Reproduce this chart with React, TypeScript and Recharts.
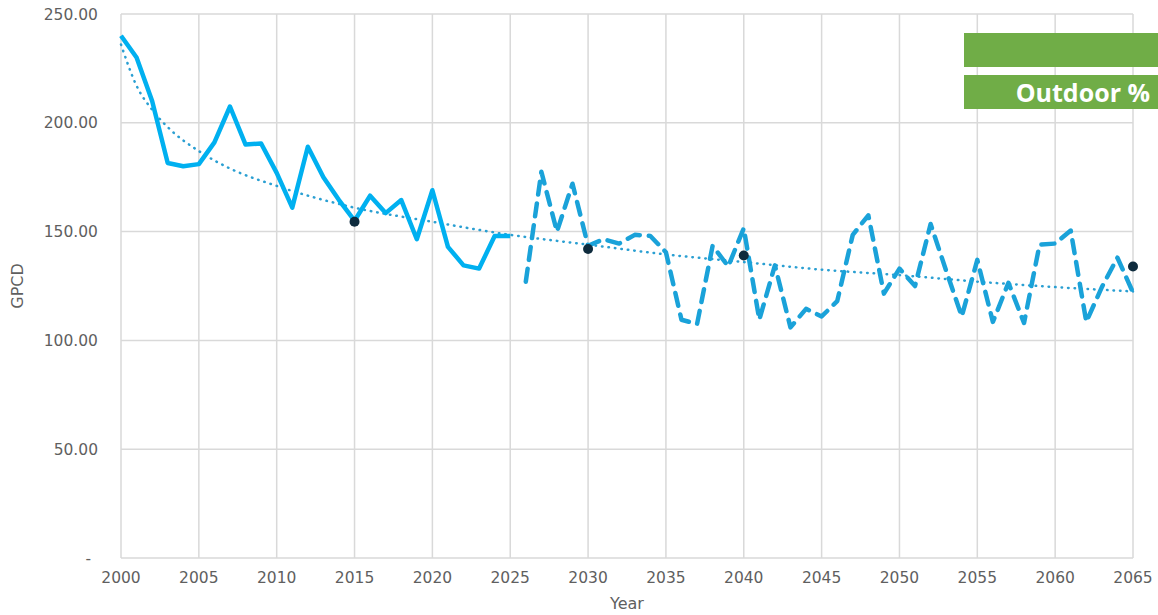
import { LineChart, Line, XAxis, YAxis, CartesianGrid } from 'recharts';

// 실측 (solid) 2000–2025
const actualYears = [
  2000, 2001, 2002, 2003, 2004, 2005, 2006, 2007, 2008, 2009, 2010, 2011, 2012,
  2013, 2014, 2015, 2016, 2017, 2018, 2019, 2020, 2021, 2022, 2023, 2024, 2025,
];
const actualGpcd = [
  240, 230, 210, 181.5, 180, 181, 191, 207.5, 190, 190.5, 177, 161, 189, 175,
  164.5, 155, 166.5, 158.5, 164.5, 146.5, 169, 143, 134.5, 133, 148, 148,
];

// 예측 (dashed) 2026–2065
const projectedYears = [
  2026, 2027, 2028, 2029, 2030, 2031, 2032, 2033, 2034, 2035, 2036, 2037, 2038,
  2039, 2040, 2041, 2042, 2043, 2044, 2045, 2046, 2047, 2048, 2049, 2050, 2051,
  2052, 2053, 2054, 2055, 2056, 2057, 2058, 2059, 2060, 2061, 2062, 2063, 2064,
  2065,
];
const projectedGpcd = [
  127, 177.5, 150, 172, 143.5, 146.5, 144.5, 148.5, 148, 140.5, 109.5, 107.5,
  143.5, 134, 151.5, 109.5, 134.5, 106, 114.5, 111, 118, 148.5, 157.5, 121.5,
  133, 125, 153.5, 132, 111, 137, 108.5, 126.5, 108, 144, 144.5, 150.5, 108.5,
  124.5, 138, 122,
];

// 추세선 (dotted) — 그림에서 읽은 지점들
const trendYears = [
  2000, 2001, 2002, 2003, 2005, 2007, 2010, 2015, 2020, 2025, 2030, 2035, 2040,
  2045, 2050, 2055, 2060, 2065,
];
const trendGpcd = [
  236, 217, 206, 198, 187, 179, 171, 161, 154.5, 148.5, 144, 139.5, 136, 132.5,
  130, 127, 124.5, 122.5,
];

// 마커 (dark dots)
const markerYears = [2015, 2030, 2040, 2065];
const markerGpcd = [154.5, 142, 139, 134];

const xTicks = [
  2000, 2005, 2010, 2015, 2020, 2025, 2030, 2035, 2040, 2045, 2050, 2055, 2060,
  2065,
];
const yTicks = [0, 50, 100, 150, 200, 250];

const legendLabels = ['', 'Outdoor %'];

const data = [...actualYears, ...projectedYears].map((year) => {
  const ai = actualYears.indexOf(year);
  const pi = projectedYears.indexOf(year);
  const ti = trendYears.indexOf(year);
  const mi = markerYears.indexOf(year);
  return {
    year,
    actual: ai >= 0 ? actualGpcd[ai] : null,
    projected: pi >= 0 ? projectedGpcd[pi] : null,
    trend: ti >= 0 ? trendGpcd[ti] : null,
    marker: mi >= 0 ? markerGpcd[mi] : null,
  };
});

const AXIS_FONT = "'DejaVu Sans', sans-serif";
const AXIS_COLOR = '#5f5f5f';

function YTick(props: any) {
  const { x, y, payload } = props;
  const v = payload.value as number;
  return (
    <text
      x={v === 0 ? x - 7 : x}
      y={y}
      dy='0.355em'
      textAnchor='end'
      fontSize={15.5}
      fontFamily={AXIS_FONT}
      fill={AXIS_COLOR}
    >
      {v === 0 ? '-' : v.toFixed(2)}
    </text>
  );
}

export default function App() {
  return (
    <div
      style={{
        position: 'absolute',
        left: 0,
        top: 0,
        width: 1158,
        height: 615,
        background: '#fff',
        overflow: 'hidden',
      }}
    >
      <LineChart
        width={1158}
        height={615}
        data={data}
        margin={{ top: 14, right: 25, left: 0, bottom: 0 }}
      >
        <CartesianGrid stroke='#d9d9d9' strokeWidth={1.5} />
        <XAxis
          dataKey='year'
          type='number'
          domain={[2000, 2065]}
          ticks={xTicks}
          interval={0}
          height={57}
          tickLine={false}
          axisLine={false}
          tickSize={0}
          tickMargin={14}
          tick={{ fontSize: 15.5, fontFamily: AXIS_FONT, fill: AXIS_COLOR }}
          label={{
            value: 'Year',
            position: 'insideBottom',
            offset: 6,
            fontSize: 16,
            fontFamily: AXIS_FONT,
            fill: AXIS_COLOR,
          }}
        />
        <YAxis
          type='number'
          domain={[0, 250]}
          ticks={yTicks}
          interval={0}
          width={121}
          tickLine={false}
          axisLine={false}
          tickSize={0}
          tickMargin={23}
          tick={<YTick />}
          label={(p: any) => {
            const vb = p.viewBox ?? { x: 0, y: 14, width: 121, height: 544 };
            const cx = 17;
            const cy = vb.y + vb.height / 2;
            return (
              <text
                x={cx}
                y={cy}
                transform={`rotate(-90, ${cx}, ${cy})`}
                textAnchor='middle'
                dominantBaseline='central'
                fontSize={16}
                fontFamily={AXIS_FONT}
                fill={AXIS_COLOR}
              >
                GPCD
              </text>
            );
          }}
        />
        <Line
          dataKey='trend'
          type='monotone'
          connectNulls
          stroke='#2a9fd2'
          strokeWidth={2.5}
          strokeDasharray='0.5 6'
          strokeLinecap='round'
          dot={false}
          activeDot={false}
          isAnimationActive={false}
        />
        <Line
          dataKey='actual'
          type='linear'
          stroke='#00b0f0'
          strokeWidth={4.5}
          strokeLinejoin='round'
          dot={false}
          activeDot={false}
          isAnimationActive={false}
        />
        <Line
          dataKey='projected'
          type='linear'
          stroke='#1aa2d9'
          strokeWidth={4.5}
          strokeDasharray='13 9'
          strokeLinecap='round'
          strokeLinejoin='round'
          dot={false}
          activeDot={false}
          isAnimationActive={false}
        />
        <Line
          dataKey='marker'
          stroke='none'
          dot={{ r: 5, fill: '#0e2b3d', stroke: 'none' }}
          activeDot={false}
          isAnimationActive={false}
        />
      </LineChart>

      {legendLabels.map((label, i) => (
        <div
          key={i}
          style={{
            position: 'absolute',
            left: 964,
            top: 33 + i * 42,
            width: 194,
            height: 34,
            background: '#70ad47',
            color: '#fff',
            fontFamily: "'Open Sans', sans-serif",
            fontWeight: 700,
            fontSize: 25,
            lineHeight: '34px',
            textAlign: 'right',
            paddingRight: 8,
            boxSizing: 'border-box',
            whiteSpace: 'nowrap',
          }}
        >
          {label}
        </div>
      ))}
    </div>
  );
}
